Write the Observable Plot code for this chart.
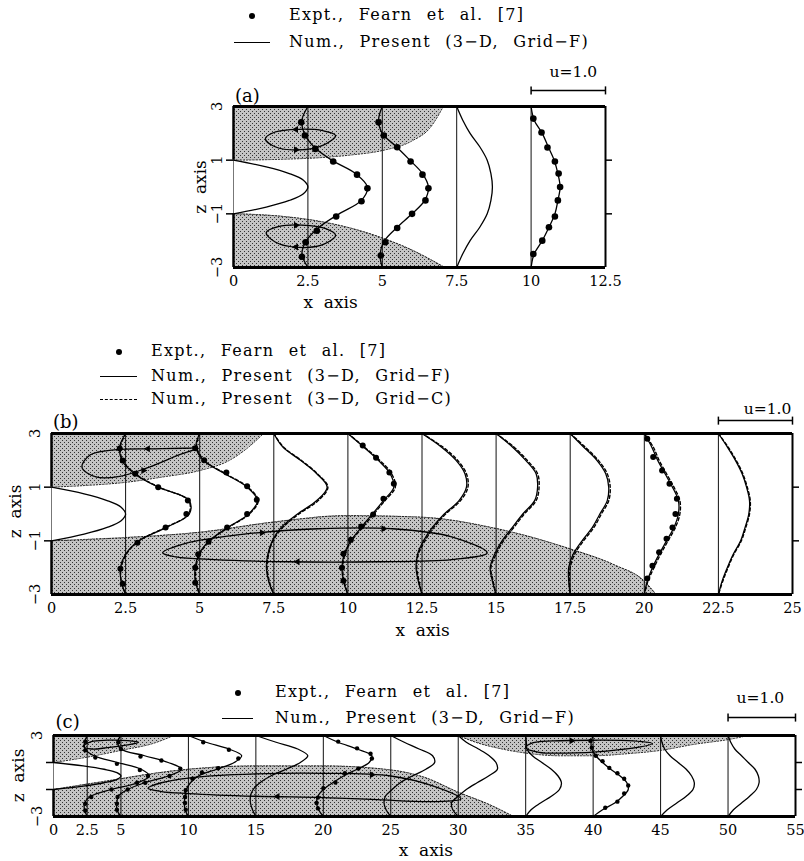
<!DOCTYPE html>
<html><head><meta charset="utf-8">
<script src="https://cdn.jsdelivr.net/npm/d3@7"></script>
<script src="https://cdn.jsdelivr.net/npm/@observablehq/plot@0.6"></script>
<style>
body{margin:0;background:#fff;}
#wrap{position:relative;width:804px;height:861px;overflow:hidden;font-family:"DejaVu Serif",serif;color:#000;}
#wrap svg{position:absolute;left:0;}
.leg{position:absolute;font-size:16px;line-height:22px;white-space:pre;word-spacing:8px;letter-spacing:1.3px;}
</style></head><body><div id="wrap"></div>
<script>
// ---------- shared ----------
const zLevels = [3, 2.5, 2, 1.5, 1, 0.5, 0, -0.5, -1, -1.5, -2, -2.5, -3];
const inletZ = [1, 0.75, 0.5, 0.25, 0, -0.25, -0.5, -0.75, -1];
const inletU = [0, 0.44, 0.75, 0.94, 1, 0.94, 0.75, 0.44, 0];
const zTickValsFull = [3, 1, -1, -3];
const zTickLabelsFull = ["3", "1", "\u22121", "\u22123"];

// ---------- panel (a) ----------
const aTicks = [0, 2.5, 5, 7.5, 10, 12.5];
const aTickLabels = ["0", "2.5", "5", "7.5", "10", "12.5"];
const aStations = [2.5, 5, 7.5, 10];
const aNumU = [
  [0, -0.08, -0.05, 0.08, 0.32, 0.64, 0.80, 0.72, 0.42, 0.15, -0.02, -0.08, 0],
  [0, -0.05, 0.00, 0.19, 0.37, 0.54, 0.62, 0.57, 0.40, 0.20, 0.03, -0.03, 0],
  [0, 0.08, 0.18, 0.31, 0.41, 0.46, 0.48, 0.46, 0.41, 0.31, 0.18, 0.08, 0],
  [0, 0.04, 0.15, 0.23, 0.31, 0.36, 0.39, 0.36, 0.32, 0.24, 0.15, 0.04, 0]
];
const aDotStations = [2.5, 5, 10];
const aDotZ = [
  [2.41, 1.92, 1.42, 0.95, 0.46, -0.05, -0.53, -1.1, -1.63, -2.06, -2.6],
  [2.41, 1.92, 1.48, 0.95, 0.46, -0.05, -0.5, -1.0, -1.53, -2.06, -2.55],
  [2.55, 2.03, 1.47, 0.95, 0.5, 0.0, -0.5, -1.1, -1.5, -2.0, -2.5]
];
const aDotU = [
  [-0.09, -0.04, 0.10, 0.34, 0.66, 0.80, 0.72, 0.38, 0.12, -0.03, -0.08],
  [-0.05, 0.02, 0.20, 0.38, 0.54, 0.62, 0.58, 0.40, 0.20, 0.04, -0.02],
  [0.03, 0.14, 0.22, 0.32, 0.37, 0.39, 0.36, 0.32, 0.24, 0.15, 0.03]
];
const aTopX = [0, 1.5, 3, 4, 5, 6, 6.6, 7.05];
const aTopZ = [1, 1.03, 1.1, 1.2, 1.36, 1.72, 2.2, 3];
const aBotX = [0, 1.5, 3, 4, 5, 6, 6.7, 7.1];
const aBotZ = [-1, -1.08, -1.3, -1.55, -1.9, -2.35, -2.75, -3];
const aLoop1X = [1.07, 1.4, 2.2, 3.0, 3.43, 3.0, 2.2, 1.4];
const aLoop1Z = [1.8, 2.05, 2.15, 2.1, 1.92, 1.55, 1.38, 1.5];
const aLoop2X = [1.1, 1.5, 2.3, 3.1, 3.43, 3.0, 2.2, 1.4];
const aLoop2Z = [-1.7, -1.48, -1.42, -1.55, -1.8, -2.15, -2.25, -2.05];
const aArrowX = [2.1, 2.1, 2.1, 2.1];
const aArrowZ = [2.14, 1.39, -1.43, -2.24];
const aArrowDir = [-90, 90, 90, -90];

// ---------- panel (b) ----------
const bTicks = [0, 2.5, 5, 7.5, 10, 12.5, 15, 17.5, 20, 22.5, 25];
const bTickLabels = ["0", "2.5", "5", "7.5", "10", "12.5", "15", "17.5", "20", "22.5", "25"];
const bStations = [2.5, 5, 7.5, 10, 12.5, 15, 17.5, 20, 22.5];
const bGridF = [
  [0, -0.08, -0.05, 0.12, 0.44, 0.86, 0.86, 0.55, 0.18, 0.0, -0.07, -0.06, 0],
  [0, -0.05, 0.05, 0.34, 0.64, 0.78, 0.66, 0.38, 0.13, -0.01, -0.06, -0.06, 0],
  [0, 0.12, 0.36, 0.58, 0.72, 0.58, 0.32, 0.10, -0.02, -0.08, -0.10, -0.07, 0],
  [0, 0.21, 0.41, 0.57, 0.62, 0.48, 0.33, 0.18, 0.04, -0.05, -0.08, -0.06, 0],
  [0, 0.26, 0.46, 0.58, 0.60, 0.50, 0.30, 0.14, 0.02, -0.06, -0.08, -0.05, 0],
  [0, 0.22, 0.40, 0.54, 0.56, 0.52, 0.36, 0.22, 0.08, -0.02, -0.08, -0.05, 0],
  [0, 0.18, 0.36, 0.48, 0.52, 0.50, 0.40, 0.30, 0.16, 0.04, -0.02, -0.02, 0],
  [0, 0.10, 0.18, 0.28, 0.38, 0.46, 0.46, 0.40, 0.30, 0.20, 0.11, 0.04, 0],
  [0, 0.12, 0.23, 0.32, 0.38, 0.42, 0.41, 0.36, 0.30, 0.20, 0.12, 0.05, 0]
];
const bGridC = [
  [0, -0.07, -0.04, 0.13, 0.45, 0.85, 0.85, 0.54, 0.18, 0.01, -0.06, -0.06, 0],
  [0, -0.04, 0.06, 0.35, 0.65, 0.79, 0.67, 0.39, 0.14, 0.0, -0.05, -0.05, 0],
  [0, 0.13, 0.37, 0.59, 0.73, 0.60, 0.34, 0.12, -0.01, -0.07, -0.09, -0.06, 0],
  [0, 0.22, 0.43, 0.59, 0.64, 0.50, 0.35, 0.20, 0.05, -0.04, -0.07, -0.05, 0],
  [0, 0.28, 0.48, 0.60, 0.62, 0.52, 0.32, 0.16, 0.04, -0.05, -0.07, -0.04, 0],
  [0, 0.24, 0.42, 0.56, 0.58, 0.54, 0.38, 0.24, 0.10, 0.0, -0.07, -0.04, 0],
  [0, 0.20, 0.38, 0.50, 0.54, 0.52, 0.42, 0.32, 0.18, 0.06, 0.0, -0.01, 0],
  [0, 0.12, 0.20, 0.30, 0.40, 0.48, 0.48, 0.42, 0.32, 0.22, 0.13, 0.05, 0],
  [0, 0.13, 0.24, 0.33, 0.39, 0.43, 0.42, 0.37, 0.31, 0.21, 0.13, 0.06, 0]
];
const bDotStations = [2.5, 5, 10, 20];
const bDotZ = [
  [2.44, 1.99, 1.5, 1.0, 0.5, 0.0, -0.5, -1.07, -2.04, -2.6],
  [2.45, 2.0, 1.55, 1.03, 0.53, 0.0, -0.5, -1.03, -1.5, -2.0, -2.56],
  [2.55, 2.1, 1.55, 1.13, 0.57, -0.02, -0.47, -0.96, -1.48, -2.0, -2.49],
  [2.8, 2.12, 1.62, 1.13, 0.57, 0.0, -0.5, -0.92, -1.43, -1.93, -2.4]
];
const bDotU = [
  [-0.08, -0.04, 0.13, 0.44, 0.84, 0.82, 0.54, 0.16, -0.07, -0.04],
  [-0.06, 0.06, 0.36, 0.64, 0.77, 0.64, 0.37, 0.12, -0.02, -0.06, -0.06],
  [0.20, 0.38, 0.56, 0.62, 0.48, 0.34, 0.18, 0.04, -0.06, -0.08, -0.06],
  [0.04, 0.12, 0.24, 0.34, 0.44, 0.42, 0.38, 0.30, 0.20, 0.11, 0.04]
];
const bTopX = [0, 1.25, 2.5, 3.75, 5, 6, 6.6, 7.15];
const bTopZ = [1, 1.07, 1.18, 1.38, 1.62, 2.0, 2.45, 3];
const bBotX = [0, 2.5, 5, 7.5, 10, 12.5, 15, 17.5, 19, 20, 20.4];
const bBotZ = [-1, -0.88, -0.68, -0.3, -0.06, -0.12, -0.54, -1.3, -1.9, -2.5, -3];
const bLoop1X = [1.03, 1.3, 2.2, 3.5, 4.5, 4.9, 4.3, 3.3, 2.3, 1.5];
const bLoop1Z = [1.74, 2.2, 2.4, 2.43, 2.45, 2.45, 2.2, 1.75, 1.4, 1.38];
const bLoop2X = [3.75, 4.5, 6.5, 9, 11.5, 13.5, 14.7, 13.5, 11, 8, 5.5, 4.2];
const bLoop2Z = [-1.45, -1.1, -0.75, -0.55, -0.55, -0.85, -1.45, -1.7, -1.78, -1.78, -1.7, -1.6];
const bArrowX = [3.25, 3.1, 7.1, 11.2, 8.3];
const bArrowZ = [2.43, 1.62, -0.7, -0.55, -1.78];
const bArrowDir = [-90, 90, 90, 90, -90];

// ---------- panel (c) ----------
const cTicks = [0, 2.5, 5, 10, 15, 20, 25, 30, 35, 40, 45, 50, 55];
const cTickLabels = ["0", "2.5", "5", "10", "15", "20", "25", "30", "35", "40", "45", "50", "55"];
const cStations = [2.5, 5, 10, 15, 20, 25, 30, 35, 40, 45, 50];
const cNumU = [
  [0, -0.04, -0.03, 0.10, 0.45, 0.80, 0.92, 0.75, 0.35, 0.05, -0.04, -0.04, 0],
  [0, -0.05, 0.0, 0.35, 0.70, 0.90, 0.70, 0.35, 0.10, -0.04, -0.06, -0.06, 0],
  [0, 0.26, 0.60, 0.79, 0.68, 0.42, 0.15, 0.03, -0.03, -0.05, -0.06, -0.05, 0],
  [0, 0.30, 0.62, 0.77, 0.66, 0.45, 0.22, 0.06, -0.04, -0.08, -0.08, -0.05, 0],
  [0, 0.22, 0.50, 0.72, 0.68, 0.50, 0.30, 0.14, 0.0, -0.08, -0.10, -0.07, 0],
  [0, 0.20, 0.42, 0.62, 0.65, 0.52, 0.32, 0.14, 0.02, -0.08, -0.10, -0.07, 0],
  [0, 0.12, 0.30, 0.46, 0.56, 0.58, 0.45, 0.28, 0.12, 0.0, -0.10, -0.08, 0],
  [0, 0.01, 0.02, 0.10, 0.24, 0.38, 0.48, 0.53, 0.50, 0.38, 0.22, 0.08, 0],
  [0, -0.03, -0.02, 0.04, 0.14, 0.26, 0.40, 0.50, 0.52, 0.44, 0.32, 0.14, 0],
  [0, 0.02, 0.06, 0.14, 0.26, 0.38, 0.46, 0.50, 0.48, 0.38, 0.24, 0.10, 0],
  [0, 0.04, 0.10, 0.20, 0.30, 0.40, 0.45, 0.46, 0.42, 0.32, 0.20, 0.08, 0]
];
const cDotStations = [2.5, 5, 10, 20, 40];
const cDotZ = [
  [2.55, 1.9, 1.37, 0.9, 0.45, 0.0, -0.5, -1.0, -1.55, -2.05, -2.55],
  [2.5, 2.0, 1.45, 1.15, 0.55, 0.0, -0.5, -1.0, -1.55, -2.05, -2.5],
  [2.5, 1.95, 1.3, 0.57, 0.26, -0.2, -1.05, -1.55, -2.0, -2.5],
  [2.55, 2.05, 1.65, 1.3, 0.55, 0.2, -0.48, -0.9, -1.6, -2.0, -2.4],
  [2.6, 2.1, 1.5, 1.1, 0.6, 0.2, -0.2, -0.7, -1.3, -1.9, -2.35]
];
const cDotU = [
  [-0.03, -0.03, 0.12, 0.44, 0.78, 0.90, 0.74, 0.36, 0.06, -0.03, -0.03],
  [-0.04, 0.0, 0.29, 0.60, 0.88, 0.72, 0.36, 0.10, -0.05, -0.06, -0.06],
  [0.22, 0.60, 0.74, 0.44, 0.20, 0.06, -0.04, -0.05, -0.05, -0.04],
  [0.22, 0.50, 0.70, 0.72, 0.52, 0.32, 0.18, 0.0, -0.08, -0.10, -0.08],
  [-0.04, -0.02, 0.04, 0.14, 0.24, 0.36, 0.46, 0.52, 0.46, 0.36, 0.18]
];
const cTop1X = [0, 2.5, 5, 7.5, 8.9];
const cTop1Z = [1, 1.4, 1.9, 2.45, 3];
const cTop2X = [30, 31.3, 33.5, 35, 37.5, 40, 42.5, 45, 47.5, 50, 51.5];
const cTop2Z = [3, 2.5, 1.95, 1.7, 1.5, 1.5, 1.65, 1.9, 2.35, 2.7, 3];
const cBotX = [0, 2.5, 5, 7.5, 10, 15, 20, 25, 27.5, 30, 32.5, 34.1];
const cBotZ = [-1, -0.6, -0.2, 0.2, 0.5, 0.75, 0.75, 0.45, -0.1, -1.2, -2.2, -3];
const cLoop1X = [2.2, 2.8, 4.0, 5.5, 6.3, 5.5, 4.0, 2.8];
const cLoop1Z = [2.2, 2.55, 2.65, 2.62, 2.5, 2.3, 2.1, 2.0];
const cLoop2X = [7.0, 8, 10, 15, 20, 25, 28, 30.2, 28, 24, 20, 15, 10, 8];
const cLoop2Z = [-0.9, -0.5, -0.15, 0.15, 0.2, 0.0, -0.7, -1.7, -1.9, -1.75, -1.6, -1.5, -1.3, -1.15];
const cLoop3X = [35.0, 35.5, 37, 40, 43, 44.4, 43.5, 41, 38, 36];
const cLoop3Z = [2.1, 2.45, 2.6, 2.65, 2.6, 2.4, 2.15, 1.85, 1.7, 1.75];
const cArrowX = [38.4, 16.6, 23.6];
const cArrowZ = [2.62, -1.52, 0.1];
const cArrowDir = [90, -90, 90];

// ---------- helpers ----------
function profileRows(stations, rows, k) {
  const out = [];
  stations.forEach((s, i) => rows[i].forEach((u, j) => out.push({s, x: s + u * k, z: zLevels[j]})));
  return out;
}
function inletRows(k) { return inletU.map((u, j) => ({s: 0, x: u * k, z: inletZ[j]})); }
function dotRows(stations, zs, us, k) {
  const out = [];
  stations.forEach((s, i) => zs[i].forEach((z, j) => out.push({x: s + us[i][j] * k, z})));
  return out;
}
function pts(xs, zs, id) { return xs.map((x, i) => ({x, z: zs[i], id})); }
function arrows(xs, zs, ds) { return xs.map((x, i) => ({x, z: zs[i], r: ds[i]})); }

const wrap = document.getElementById("wrap");

function panel(c) {
  const mt = c.frameTop - c.svgTop;
  const mb = c.svgH - (c.frameBottom - c.svgTop);
  const ff = "'DejaVu Serif', serif";
  const marks = [];
  c.tops.forEach(t => {
    marks.push(Plot.areaY(t, {x: "x", y1: "z", y2: 3, curve: "monotone-x", fill: "url(#stip)"}));
    marks.push(Plot.line(t, {x: "x", y: "z", curve: "monotone-x", stroke: "#222", strokeWidth: 1, strokeDasharray: "1.6,1.6"}));
  });
  c.bots.forEach(t => {
    marks.push(Plot.areaY(t, {x: "x", y1: -3, y2: "z", curve: "monotone-x", fill: "url(#stip)"}));
    marks.push(Plot.line(t, {x: "x", y: "z", curve: "monotone-x", stroke: "#222", strokeWidth: 1, strokeDasharray: "1.6,1.6"}));
  });
  marks.push(Plot.ruleX(c.stations, {stroke: "#111", strokeWidth: 1}));
  marks.push(Plot.ruleX([0], {y1: -1, y2: 1, stroke: "#777", strokeWidth: 1}));
  marks.push(Plot.line(inletRows(c.k), {x: "x", y: "z", curve: "catmull-rom", stroke: "#000", strokeWidth: 1.3}));
  if (c.gridC) marks.push(Plot.line(profileRows(c.stations, c.gridC, c.k), {x: "x", y: "z", z: "s", curve: "catmull-rom", stroke: "#000", strokeWidth: 1.4, strokeDasharray: "3,2.5"}));
  marks.push(Plot.line(profileRows(c.stations, c.numU, c.k), {x: "x", y: "z", z: "s", curve: "catmull-rom", stroke: "#000", strokeWidth: 1.3}));
  marks.push(Plot.line(c.loops.flat(), {x: "x", y: "z", z: "id", curve: "catmull-rom-closed", stroke: "#000", strokeWidth: 1.3}));
  marks.push(Plot.dot(c.arrows, {x: "x", y: "z", symbol: "triangle", rotate: "r", r: 2.6, fill: "#000", stroke: "none"}));
  marks.push(Plot.dot(c.dots, {x: "x", y: "z", r: c.dotR, fill: "#000", stroke: "none"}));
  // frame
  marks.push(Plot.ruleY([3, -3], {stroke: "#000", strokeWidth: 3}));
  marks.push(Plot.ruleX([c.xmax], {stroke: "#000", strokeWidth: 2}));
  marks.push(Plot.ruleX([{a: 1, b: 3}, {a: -3, b: -1}], {x: 0, y1: "a", y2: "b", stroke: "#000", strokeWidth: 2.5}));
  marks.push(Plot.axisY({anchor: "left", ticks: [1, -1], tickSize: 7, tickFormat: () => "", label: null, strokeWidth: 1.5}));
  marks.push(Plot.axisY({anchor: "right", ticks: [1, -1], tickSize: 6, tickFormat: () => "", label: null, strokeWidth: 1.5}));
  // tick labels
  marks.push(Plot.text(c.ticks, {x: d => d, y: -3, dy: 14, text: (d, i) => c.tickLabels[i], fontSize: 14.5, fontFamily: ff}));
  marks.push(Plot.text(c.zTicks, {x: 0, y: d => d, dx: -16, rotate: -90, text: (d, i) => c.zTickLabels[i], fontSize: 14.5, fontFamily: ff}));
  // axis titles & labels
  marks.push(Plot.text([0], {x: c.xlab[0], y: c.xlab[1], text: () => "x\u00A0\u00A0axis", fontSize: 17, fontFamily: ff}));
  marks.push(Plot.text([0], {x: c.zlab[0], y: c.zlab[1], rotate: -90, text: () => "z\u00A0\u00A0axis", fontSize: 17, fontFamily: ff}));
  marks.push(Plot.text([0], {x: c.plab[0], y: c.plab[1], text: () => c.plab[2], textAnchor: "start", fontSize: 18, fontFamily: ff}));
  marks.push(Plot.text([0], {x: c.ulab[0], y: c.ulab[1], text: () => "u=1.0", fontSize: 15.5, fontFamily: ff}));
  // u = 1.0 reference bar (length = 1.0 in u units)
  const b0 = c.bar[0], b1 = c.bar[0] + 1.0 * c.k, bz = c.bar[1], cap = c.bar[2];
  marks.push(Plot.link([{x1: b0, x2: b1}], {x1: "x1", x2: "x2", y1: bz, y2: bz, stroke: "#000", strokeWidth: 1.5}));
  marks.push(Plot.link([b0, b1], {x1: d => d, x2: d => d, y1: bz - cap, y2: bz + cap, stroke: "#000", strokeWidth: 1.5}));

  const svg = Plot.plot({
    width: 804, height: c.svgH,
    marginLeft: c.px0, marginRight: 804 - c.px1, marginTop: mt, marginBottom: mb,
    x: {domain: [0, c.xmax], axis: null},
    y: {domain: [-3, 3], axis: null},
    style: {fontFamily: ff, background: "none", overflow: "visible"},
    marks
  });
  const defs = d3.select(svg).insert("defs", ":first-child");
  const p = defs.append("pattern").attr("id", "stip").attr("width", 4).attr("height", 4).attr("patternUnits", "userSpaceOnUse");
  p.append("rect").attr("width", 4).attr("height", 4).attr("fill", "#c4c4c4");
  p.append("rect").attr("x", 0).attr("y", 0).attr("width", 1).attr("height", 1).attr("fill", "#333");
  p.append("rect").attr("x", 2).attr("y", 2).attr("width", 1).attr("height", 1).attr("fill", "#333");
  svg.style.top = c.svgTop + "px";
  wrap.append(svg);
}

function legendRow(kind, x0, x1, y, tx, label) {
  const d = document.createElement("div");
  if (kind === "dot") {
    d.style.cssText = `position:absolute;left:${(x0 + x1) / 2 - 3}px;top:${y - 3}px;width:6px;height:6px;border-radius:50%;background:#000`;
  } else {
    d.style.cssText = `position:absolute;left:${x0}px;top:${y - 0.75}px;width:${x1 - x0}px;height:0;border-top:1.5px ${kind === "dash" ? "dashed" : "solid"} #000`;
  }
  wrap.append(d);
  const t = document.createElement("div");
  t.className = "leg";
  t.style.left = tx + "px";
  t.style.top = (y - 12) + "px";
  t.textContent = label;
  wrap.append(t);
}

// ---------- build ----------
panel({
  xmax: 12.5, k: 2.5, px0: 233, px1: 605, frameTop: 106, frameBottom: 267, svgTop: 55, svgH: 255,
  stations: aStations, numU: aNumU, ticks: aTicks, tickLabels: aTickLabels,
  zTicks: zTickValsFull, zTickLabels: zTickLabelsFull,
  dots: dotRows(aDotStations, aDotZ, aDotU, 2.5), dotR: 3.3,
  tops: [pts(aTopX, aTopZ, "t")], bots: [pts(aBotX, aBotZ, "b")],
  loops: [pts(aLoop1X, aLoop1Z, "l1"), pts(aLoop2X, aLoop2Z, "l2")],
  arrows: arrows(aArrowX, aArrowZ, aArrowDir),
  xlab: [3.26, -4.32], zlab: [-1.11, 0], plab: [0.05, 3.37, "(a)"], ulab: [11.42, 4.27], bar: [10, 3.6, 0.15]
});
panel({
  xmax: 25, k: 2.5, px0: 51, px1: 792, frameTop: 433, frameBottom: 594, svgTop: 390, svgH: 250,
  stations: bStations, numU: bGridF, gridC: bGridC, ticks: bTicks, tickLabels: bTickLabels,
  zTicks: zTickValsFull, zTickLabels: zTickLabelsFull,
  dots: dotRows(bDotStations, bDotZ, bDotU, 2.5), dotR: 3,
  tops: [pts(bTopX, bTopZ, "t")], bots: [pts(bBotX, bBotZ, "b")],
  loops: [pts(bLoop1X, bLoop1Z, "l1"), pts(bLoop2X, bLoop2Z, "l2")],
  arrows: arrows(bArrowX, bArrowZ, bArrowDir),
  xlab: [12.52, -4.35], zlab: [-1.21, 0.1], plab: [0.05, 3.41, "(b)"], ulab: [24.16, 3.93], bar: [22.5, 3.48, 0.15]
});
panel({
  xmax: 55, k: 5, px0: 53, px1: 795, frameTop: 735, frameBottom: 816, svgTop: 680, svgH: 181,
  stations: cStations, numU: cNumU, ticks: cTicks, tickLabels: cTickLabels,
  zTicks: [3, -3], zTickLabels: ["3", "\u22123"],
  dots: dotRows(cDotStations, cDotZ, cDotU, 5), dotR: 2.2,
  tops: [pts(cTop1X, cTop1Z, "t1"), pts(cTop2X, cTop2Z, "t2")], bots: [pts(cBotX, cBotZ, "b")],
  loops: [pts(cLoop1X, cLoop1Z, "l1"), pts(cLoop2X, cLoop2Z, "l2"), pts(cLoop3X, cLoop3Z, "l3")],
  arrows: arrows(cArrowX, cArrowZ, cArrowDir),
  xlab: [27.6, -5.52], zlab: [-2.6, 0.04], plab: [0.15, 3.96, "(c)"], ulab: [52.4, 5.74], bar: [50, 4.33, 0.3]
});

legendRow("dot", 234, 270, 16, 289, "Expt., Fearn et al. [7]");
legendRow("line", 234, 270, 43, 289, "Num., Present (3\u2212D, Grid\u2212F)");
legendRow("dot", 100, 137, 352, 151, "Expt., Fearn et al. [7]");
legendRow("line", 100, 137, 377, 151, "Num., Present (3\u2212D, Grid\u2212F)");
legendRow("dash", 100, 137, 400, 151, "Num., Present (3\u2212D, Grid\u2212C)");
legendRow("dot", 222, 253, 693, 275, "Expt., Fearn et al. [7]");
legendRow("line", 222, 253, 719, 275, "Num., Present (3\u2212D, Grid\u2212F)");
</script></body></html>
